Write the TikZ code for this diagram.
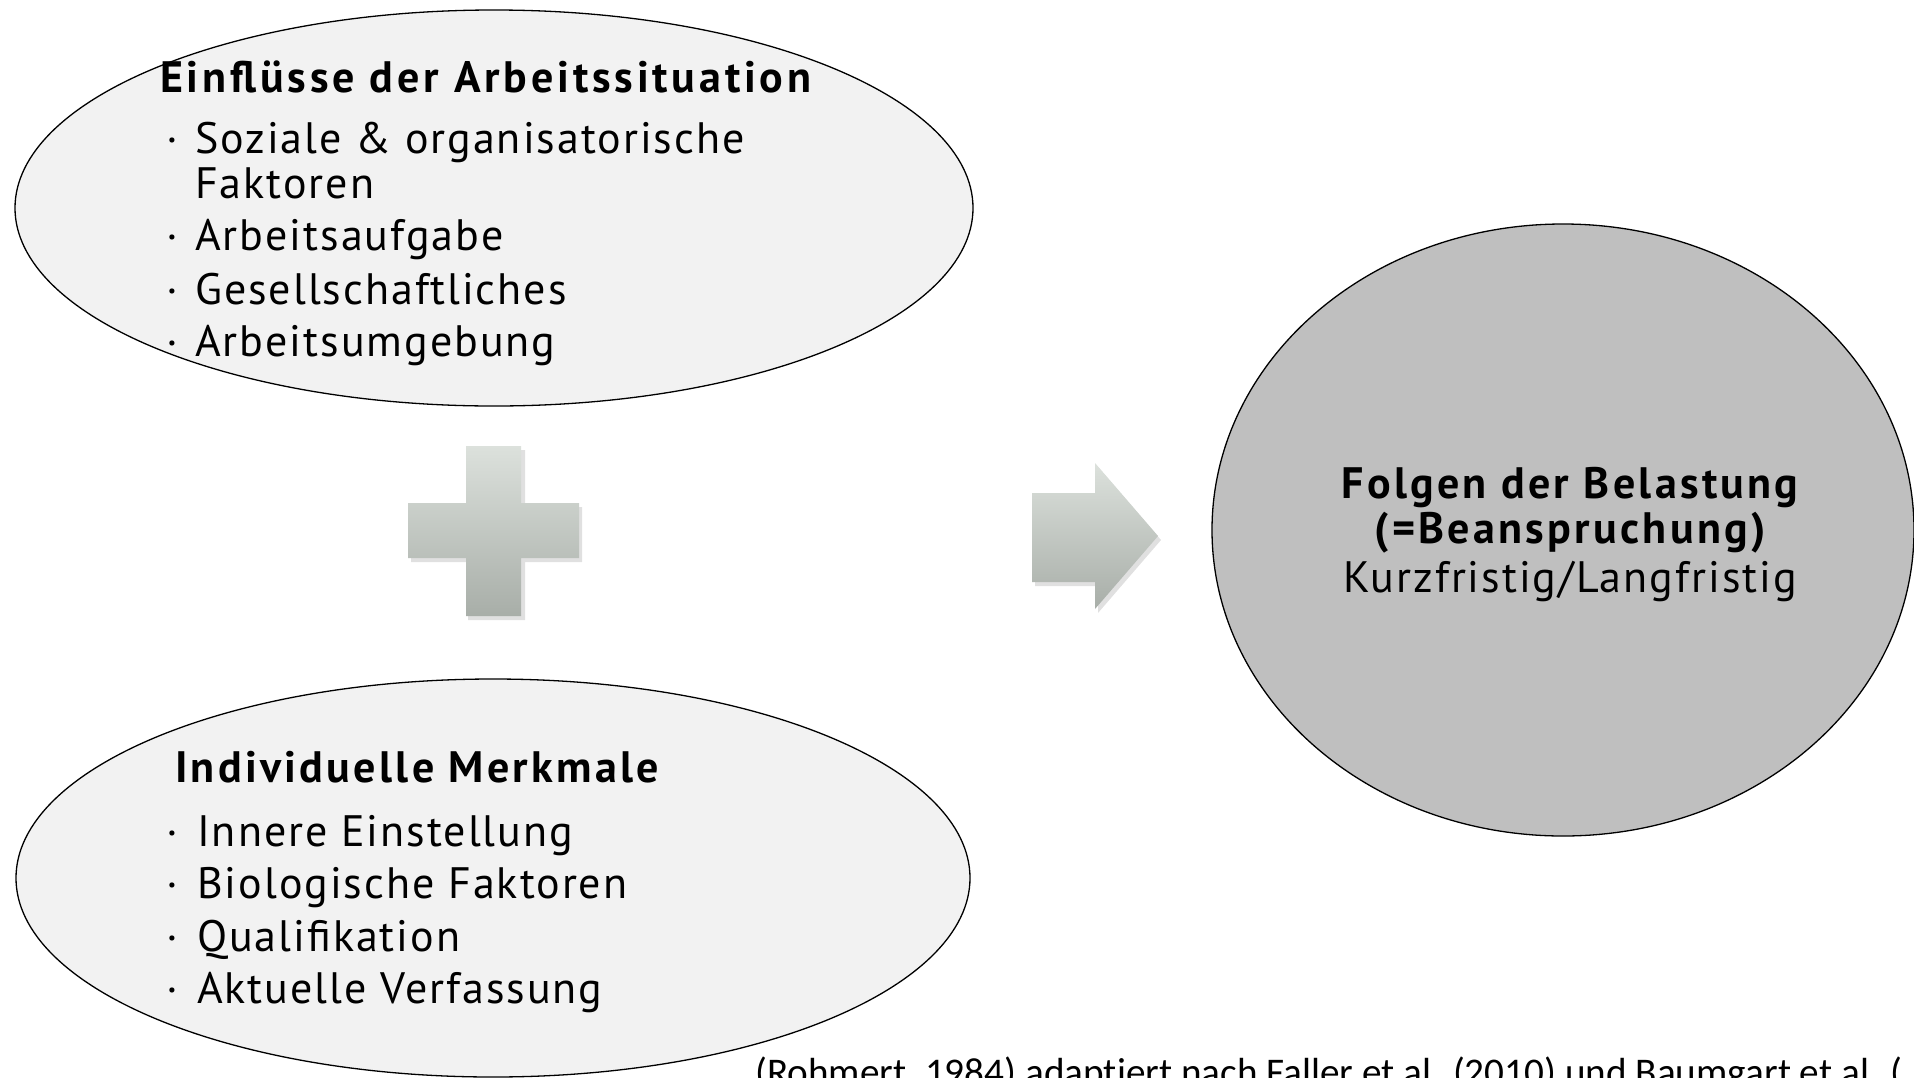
\documentclass[tikz,border=0pt]{standalone}
\usepackage{fontspec}
\setmainfont{PT Sans}
\newfontfamily\regfont[LetterSpace=4.5]{PT Sans}
\newfontfamily\boldfont[LetterSpace=7.5]{PT Sans Bold}
\newfontfamily\wideboldfont[LetterSpace=8.7]{PT Sans Bold}
\newfontfamily\citefont[Ligatures=NoCommon]{Carlito}
\usetikzlibrary{shapes.geometric}
\definecolor{ellfill}{HTML}{F2F2F2}
\definecolor{circfill}{HTML}{BFBFBF}
\definecolor{shtop}{HTML}{DCE1DC}
\definecolor{shbot}{HTML}{A8AEA8}
\tikzset{
  blob/.style={ellipse, draw=black, line width=1.3pt, inner sep=0pt},
  txt/.style={anchor=base west, inner sep=0pt, font=\regfont\fontsize{44}{53}\selectfont},
  ttl/.style={anchor=base west, inner sep=0pt, font=\boldfont\fontsize{44}{53}\selectfont},
  ctr/.style={anchor=base, inner sep=0pt, font=\regfont\fontsize{44}{53}\selectfont},
  ctrb/.style={anchor=base, inner sep=0pt, font=\boldfont\fontsize{44}{53}\selectfont},
  bul/.style={anchor=base west, inner sep=0pt, font=\fontsize{44}{53}\selectfont},
  glyph/.style={top color=shtop, bottom color=shbot, draw=none},
  glyphshadow/.style={fill=black, opacity=0.12, draw=none}
}
\begin{document}
\begin{tikzpicture}[x=1pt,y=-1pt]
\useasboundingbox (0,0) rectangle (1914,1077);
\clip (0,0) rectangle (1914,1077);
\fill[white] (0,0) rectangle (1914,1077);

% ellipses
\node[blob, fill=ellfill, minimum width=958pt, minimum height=396pt] (e1) at (494,208) {};
\node[blob, fill=ellfill, minimum width=954pt, minimum height=398pt] (e2) at (493,878) {};
\node[blob, fill=circfill, minimum width=702pt, minimum height=612pt] (e3) at (1563,530) {};

% top ellipse text
\node[ttl, font=\wideboldfont\fontsize{44}{53}\selectfont] (t1) at (160,92) {Einflüsse der Arbeitssituation};
\node[bul] (b11) at (166,153) {·};
\node[txt] (a11) at (195,153) {Soziale \& organisatorische};
\node[txt] (a12) at (195,198) {Faktoren};
\node[bul] (b12) at (166,250) {·};
\node[txt] (a13) at (195,250) {Arbeitsaufgabe};
\node[bul] (b13) at (166,304) {·};
\node[txt] (a14) at (195,304) {Gesellschaftliches};
\node[bul] (b14) at (166,356) {·};
\node[txt] (a15) at (195,356) {Arbeitsumgebung};

% bottom ellipse text
\node[ttl] (t2) at (175,782) {Individuelle Merkmale};
\node[bul] (b21) at (166,846) {·};
\node[txt] (a21) at (197,846) {Innere Einstellung};
\node[bul] (b22) at (166,898) {·};
\node[txt] (a22) at (197,898) {Biologische Faktoren};
\node[bul] (b23) at (166,951) {·};
\node[txt] (a23) at (197,951) {Qualifikation};
\node[bul] (b24) at (166,1003) {·};
\node[txt] (a24) at (197,1003) {Aktuelle Verfassung};

% circle text
\node[ctrb] (c1) at (1570,498) {Folgen der Belastung};
\node[ctrb] (c2) at (1570,543) {(=Beanspruchung)};
\node[ctr] (c3) at (1570,592) {Kurzfristig/Langfristig};

% plus sign
\fill[glyphshadow] (468,450) -- (525,450) -- (525,507) -- (582,507) -- (582,562) -- (525,562) -- (525,620) -- (468,620) -- (468,562) -- (411,562) -- (411,507) -- (468,507) -- cycle;
\path[glyph] (466,446) -- (521,446) -- (521,503) -- (579,503) -- (579,558) -- (521,558) -- (521,616) -- (466,616) -- (466,558) -- (408,558) -- (408,503) -- (466,503) -- cycle;

% arrow
\fill[glyphshadow] (1035,497) -- (1098,497) -- (1098,467) -- (1161,540) -- (1098,613) -- (1098,586) -- (1035,586) -- cycle;
\path[glyph] (1032,493) -- (1095,493) -- (1095,463) -- (1158,536) -- (1095,609) -- (1095,582) -- (1032,582) -- cycle;

% citation
\node[anchor=base west, inner sep=0pt, font=\citefont\fontsize{39.2}{46}\selectfont] (cite) at (755,1085) {(Rohmert, 1984) adaptiert nach Faller et al. (2010) und Baumgart et al. (};
\end{tikzpicture}
\end{document}
